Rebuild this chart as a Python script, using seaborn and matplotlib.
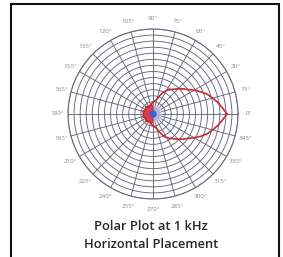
import numpy as np
import pandas as pd
import matplotlib
matplotlib.use("Agg")
import matplotlib.pyplot as plt
import seaborn as sns
from matplotlib.patches import Rectangle

sns.set_style("white")
plt.rcParams['font.family'] = ['Open Sans', 'DejaVu Sans']

# Data: normalized response (1 = outer ring)
angles_deg = [0, 5, 10, 15, 20, 25, 30, 35, 40, 45, 50, 55, 60, 65, 70, 75, 80, 85, 90,
              105, 120, 135, 150, 165, 180, 195, 210, 225, 240, 255,
              270, 275, 280, 285, 290, 295, 300, 305, 310, 315, 320, 325, 330,
              335, 340, 345, 350, 355, 360]
response = [0.87, 0.82, 0.775, 0.725, 0.68, 0.62, 0.56, 0.50, 0.46, 0.42, 0.38, 0.35, 0.32,
            0.28, 0.23, 0.18, 0.16, 0.15, 0.14,
            0.11, 0.10, 0.12, 0.10, 0.12, 0.11, 0.12, 0.10, 0.12, 0.10, 0.11,
            0.14, 0.15, 0.16, 0.18, 0.23, 0.28, 0.32, 0.35, 0.38, 0.42, 0.46, 0.50, 0.56,
            0.62, 0.68, 0.725, 0.775, 0.82, 0.87]
tick_angles = list(range(0, 360, 15))
tick_labels = [f"{a}°" for a in tick_angles]
n_rings = 14
title_lines = ["Polar Plot at 1 kHz", "Horizontal Placement"]

df = pd.DataFrame({"theta": np.deg2rad(angles_deg), "r": response})

fig = plt.figure(figsize=(2.83, 2.57), dpi=100)
fig.patch.set_facecolor("white")

ax = fig.add_axes([0.2403, 0.2257, 0.6007, 0.6615], projection="polar")
ax.set_facecolor("white")

grid_c = "#66667f"
# light blue halo + blue center
halo_t = np.linspace(0, 2 * np.pi, 100)
ax.fill(halo_t, np.full_like(halo_t, 0.10), color="#c4cbee", alpha=0.7, zorder=1)
ax.fill(halo_t, np.full_like(halo_t, 0.035), color="#4a5cc8", zorder=5)

back = df[(df["theta"] > np.deg2rad(95)) & (df["theta"] < np.deg2rad(265))]
ax.fill(np.concatenate([[np.pi / 2], back["theta"], [3 * np.pi / 2]]),
        np.concatenate([[0.10], back["r"], [0.10]]),
        color="#d8262e", alpha=0.8, zorder=2)

sns.lineplot(data=df, x="theta", y="r", sort=False, ax=ax, color="#c8282e",
             linewidth=1.2, zorder=4, estimator=None)

ax.set_ylim(0, 1)
ax.set_yticks(np.linspace(1 / n_rings, 1, n_rings))
ax.set_yticklabels([])
ax.set_xticks(np.deg2rad(tick_angles))
ax.set_xticklabels(tick_labels, fontsize=4.5, color="#8a8a8a")
ax.tick_params(axis="x", pad=-3)
ax.grid(True, color=grid_c, linewidth=0.65)
ax.spines["polar"].set_color(grid_c)
ax.spines["polar"].set_linewidth(0.8)
ax.set_xlabel("")
ax.set_ylabel("")

fig.text(0.533, 1 - 227 / 257, title_lines[0], ha="center", va="center",
         fontsize=9.3, color="#262626", fontweight="semibold")
fig.text(0.533, 1 - 245 / 257, title_lines[1], ha="center", va="center",
         fontsize=9.3, color="#262626", fontweight="semibold")

# black frame
fig.add_artist(Rectangle((11 / 283, -0.05), (279 - 11) / 283, 1 - 4 / 257 + 0.05,
                         transform=fig.transFigure, fill=False, edgecolor="#111111",
                         linewidth=1.5))

fig.savefig("out.png", dpi=100)
